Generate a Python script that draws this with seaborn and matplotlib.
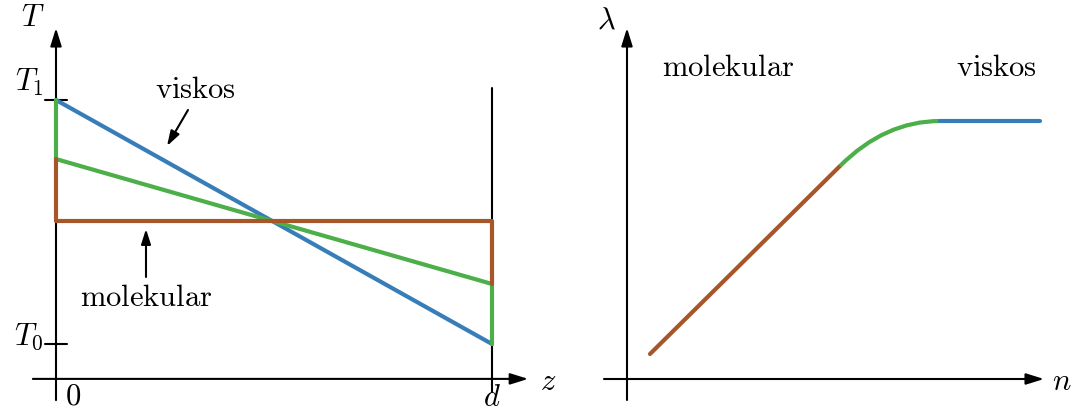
import matplotlib
matplotlib.use("Agg")
import matplotlib.pyplot as plt
from matplotlib.path import Path
from matplotlib.patches import PathPatch
import seaborn as sns

sns.set_theme(style="white")
plt.rcParams["mathtext.fontset"] = "cm"
plt.rcParams["font.family"] = ["DejaVu Serif"]
plt.rcParams["text.color"] = "black"

# ---------------- data: left panel (z in units of d, T normalised T0=0, T1=1)
viskos_z = [0.0, 1.0]
viskos_T = [1.0, 0.0]
mixed_z = [0.0, 0.0, 1.0, 1.0]
mixed_T = [1.0, 0.758, 0.246, 0.0]
molek_z = [0.0, 0.0, 1.0, 1.0]
molek_T = [0.758, 0.504, 0.504, 0.246]

# ---------------- data: right panel (lambda vs n)
molek_n = [0.23, 2.13]
molek_lam = [0.25, 2.13]
# transition curve: start, tangent-intersection control point, end
mixed_n = [2.13, 2.58, 3.13]
mixed_lam = [2.13, 2.58, 2.58]
visk_n = [3.13, 4.13]
visk_lam = [2.58, 2.58]

BLUE = "#377eb8"
GREEN = "#4daf4a"
BROWN = "#a65628"
LW = 3.0
FS = 22

fig = plt.figure(figsize=(10.75, 4.12), dpi=100)
W, H = 1075.0, 412.0

axL = fig.add_axes([0, 0, 560 / W, 1])
axL.set_xlim(-56 / 436, 504 / 436)
axL.set_ylim(-68 / 244, 344 / 244)
axL.axis("off")

axR = fig.add_axes([580 / W, 0, 495 / W, 1])
axR.set_xlim(-0.47, 4.48)
axR.set_ylim(-0.33, 3.79)
axR.axis("off")

arrow = dict(arrowstyle="-|>,head_length=0.9,head_width=0.28", color="black",
             lw=1.5, shrinkA=0, shrinkB=0)
small_arrow = dict(arrowstyle="-|>,head_length=0.75,head_width=0.24", color="black",
                   lw=1.5, shrinkA=0, shrinkB=0)

def axis_arrow(ax, start, end):
    ax.annotate("", xy=end, xytext=start, arrowprops=arrow, zorder=1)

# ---- left panel axes
axis_arrow(axL, (0, -0.23), (0, 1.295))
axis_arrow(axL, (-0.053, -0.143), (1.083, -0.143))
axL.plot([1, 1], [-0.197, 1.049], color="black", lw=1.5, zorder=1)
axL.plot([-0.025, 0.025], [1, 1], color="black", lw=1.5, zorder=1)
axL.plot([-0.025, 0.025], [0, 0], color="black", lw=1.5, zorder=1)

sns.lineplot(x=viskos_z, y=viskos_T, sort=False, estimator=None, color=BLUE, lw=LW, ax=axL, zorder=3)
sns.lineplot(x=mixed_z, y=mixed_T, sort=False, estimator=None, color=GREEN, lw=LW, ax=axL, zorder=4)
sns.lineplot(x=molek_z, y=molek_T, sort=False, estimator=None, color=BROWN, lw=LW, ax=axL, zorder=5)

axL.text(-23 / 436, (344 - 18) / 244, r"$T$", fontsize=FS, ha="center", va="center")
axL.text(-12 / 436, (344 - 82) / 244, r"$T_1$", fontsize=FS, ha="right", va="center")
axL.text(-12 / 436, (344 - 336) / 244, r"$T_0$", fontsize=FS, ha="right", va="center")
axL.text(17 / 436, (344 - 396) / 244, r"$0$", fontsize=FS, ha="center", va="center")
axL.text(1.0, (344 - 397) / 244, r"$d$", fontsize=FS, ha="center", va="center")
axL.text(492 / 436, (344 - 381) / 244, r"$z$", fontsize=FS, ha="center", va="center")
axL.text(139 / 436, (344 - 90) / 244, r"$\mathrm{viskos}$", fontsize=FS, ha="center", va="center")
axL.text(90 / 436, (344 - 298) / 244, r"$\mathrm{molekular}$", fontsize=FS, ha="center", va="center")
axL.annotate("", xy=(111 / 436, (344 - 146) / 244), xytext=(132 / 436, (344 - 110) / 244),
             arrowprops=small_arrow)
axL.annotate("", xy=(90 / 436, (344 - 229) / 244), xytext=(90 / 436, (344 - 277) / 244),
             arrowprops=small_arrow)

# ---- right panel
axis_arrow(axR, (0, -0.21), (0, 3.51))
axis_arrow(axR, (-0.23, 0), (4.17, 0))

sns.lineplot(x=molek_n, y=molek_lam, sort=False, estimator=None, color=BROWN, lw=LW, ax=axR, zorder=3)
curve = Path(list(zip(mixed_n, mixed_lam)), [Path.MOVETO, Path.CURVE3, Path.CURVE3])
axR.add_patch(PathPatch(curve, facecolor="none", edgecolor=GREEN, lw=LW, zorder=3))
sns.lineplot(x=visk_n, y=visk_lam, sort=False, estimator=None, color=BLUE, lw=LW, ax=axR, zorder=3)

axR.text(-0.21, 3.59, r"$\lambda$", fontsize=FS, ha="center", va="center")
axR.text(4.35, -0.02, r"$n$", fontsize=FS, ha="center", va="center")
axR.text(1.01, 3.11, r"$\mathrm{molekular}$", fontsize=FS, ha="center", va="center")
axR.text(3.69, 3.11, r"$\mathrm{viskos}$", fontsize=FS, ha="center", va="center")

fig.savefig("out.png", dpi=100)
